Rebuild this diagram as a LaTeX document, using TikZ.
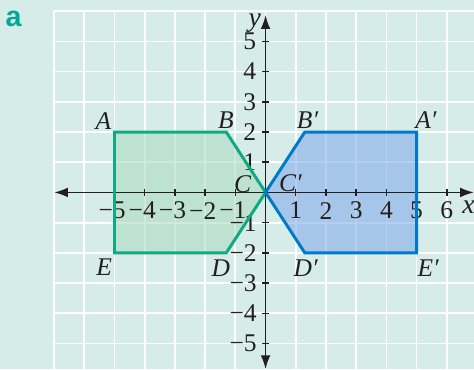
\documentclass[tikz,border=0pt]{standalone}
\usepackage{fontspec}
\usepackage{xcolor}
\usepackage{tikz}
\usetikzlibrary{arrows.meta, calc}
\setmainfont{Liberation Serif}
\newfontfamily\partfont{Liberation Sans}
\definecolor{gridbg}{RGB}{213, 236, 232}
\definecolor{darktext}{RGB}{35, 31, 32}
\definecolor{partteal}{RGB}{0, 168, 150}
\definecolor{objgreen}{RGB}{16, 170, 130}
\definecolor{objfill}{RGB}{176, 220, 196}
\definecolor{imgblue}{RGB}{0, 122, 200}
\definecolor{imgfill}{RGB}{136, 174, 235}
\tikzset{
    gridline/.style={white, line width=0.8pt},
    axisline/.style={darktext, line width=0.85pt, {Latex[length=6.5pt,width=4.6pt]}-{Latex[length=6.5pt,width=4.6pt]}},
    axistick/.style={darktext, line width=0.7pt},
    numlabel/.style={text=darktext, inner sep=0pt, font=\fontsize{12}{14}\selectfont},
    ptlabel/.style={text=darktext, inner sep=0pt, font=\itshape\fontsize{12}{14}\selectfont},
    objshape/.style={draw=objgreen, line width=1.4pt, line join=miter},
    imgshape/.style={draw=imgblue, line width=1.4pt, line join=miter}
}

\begin{document}
\begin{tikzpicture}[x=0.5cm, y=0.5cm]
    % page and grid
    \fill[gridbg] (-8.79,-5.85) rectangle (6.9,6.37);
    \useasboundingbox (-8.79,-5.85) rectangle (6.9,6.37);
    \foreach \gx in {-7,...,6}
        \draw[gridline] (\gx,-5.85) -- (\gx,6);
    \foreach \gy in {-5,...,6}
        \draw[gridline] (-7,\gy) -- (6.9,\gy);

    \node[text=partteal, font=\partfont\bfseries\fontsize{13.5}{16}\selectfont, inner sep=0pt] (part) at (-8.34,5.76) {a};

    % vertices of the object and its image
    \coordinate (A) at (-5,2);
    \coordinate (B) at (-1.3,2);
    \coordinate (C) at (0,0);
    \coordinate (D) at (-1.3,-2);
    \coordinate (E) at (-5,-2);
    \coordinate (Ap) at (5,2);
    \coordinate (Bp) at (1.3,2);
    \coordinate (Cp) at (0,0);
    \coordinate (Dp) at (1.3,-2);
    \coordinate (Ep) at (5,-2);

    \fill[objfill, fill opacity=0.6] (A) -- (B) -- (C) -- (D) -- (E) -- cycle;
    \fill[imgfill, fill opacity=0.6] (Ap) -- (Bp) -- (Cp) -- (Dp) -- (Ep) -- cycle;

    % axes
    \coordinate (xstart) at (-7,0);
    \coordinate (xend) at (6.9,0);
    \coordinate (ystart) at (0,-5.85);
    \coordinate (yend) at (0,5.87);
    \draw[axisline] (xstart) -- (xend);
    \draw[axisline] (ystart) -- (yend);
    \node[ptlabel, font=\itshape\fontsize{13}{15}\selectfont] (xlab) at (6.72,-0.5) {x};
    \node[ptlabel, font=\itshape\fontsize{13}{15}\selectfont] (ylab) at (-0.36,5.62) {y};

    \foreach \t in {-5,...,-1}{
        \draw[axistick] (\t,-0.12) -- (\t,0.12);
        \node[numlabel] (xn\t) at ($(\t,-0.6)+(-0.08,0)$) {−\number\numexpr-\t\relax};
    }
    \foreach \t in {1,...,6}{
        \draw[axistick] (\t,-0.12) -- (\t,0.12);
        \node[numlabel] (xp\t) at (\t,-0.6) {\t};
    }
    \foreach \t in {-5,...,-1}{
        \draw[axistick] (-0.12,\t) -- (0.12,\t);
        \node[numlabel, anchor=east] (yn\t) at (-0.28,\t) {−\number\numexpr-\t\relax};
    }
    \foreach \t in {1,...,5}{
        \draw[axistick] (-0.12,\t) -- (0.12,\t);
        \node[numlabel, anchor=east] (yp\t) at (-0.3,\t) {\t};
    }

    % outlines
    \draw[objshape] (A) -- (B) -- (C) -- (D) -- (E) -- cycle;
    \draw[imgshape] (Ap) -- (Bp) -- (Cp) -- (Dp) -- (Ep) -- cycle;

    % vertex labels
    \node[ptlabel] (labA) at (-5.37,2.37) {A};
    \node[ptlabel] (labB) at (-1.31,2.4) {B};
    \node[ptlabel] (labC) at (-0.76,0.26) {C};
    \node[ptlabel] (labD) at (-1.48,-2.52) {D};
    \node[ptlabel] (labE) at (-5.34,-2.48) {E};
    \node[ptlabel] (labAp) at (5.31,2.4) {A′};
    \node[ptlabel] (labBp) at (1.39,2.4) {B′};
    \node[ptlabel] (labCp) at (0.82,0.3) {C′};
    \node[ptlabel] (labDp) at (1.33,-2.52) {D′};
    \node[ptlabel] (labEp) at (5.38,-2.5) {E′};
\end{tikzpicture}
\end{document}
